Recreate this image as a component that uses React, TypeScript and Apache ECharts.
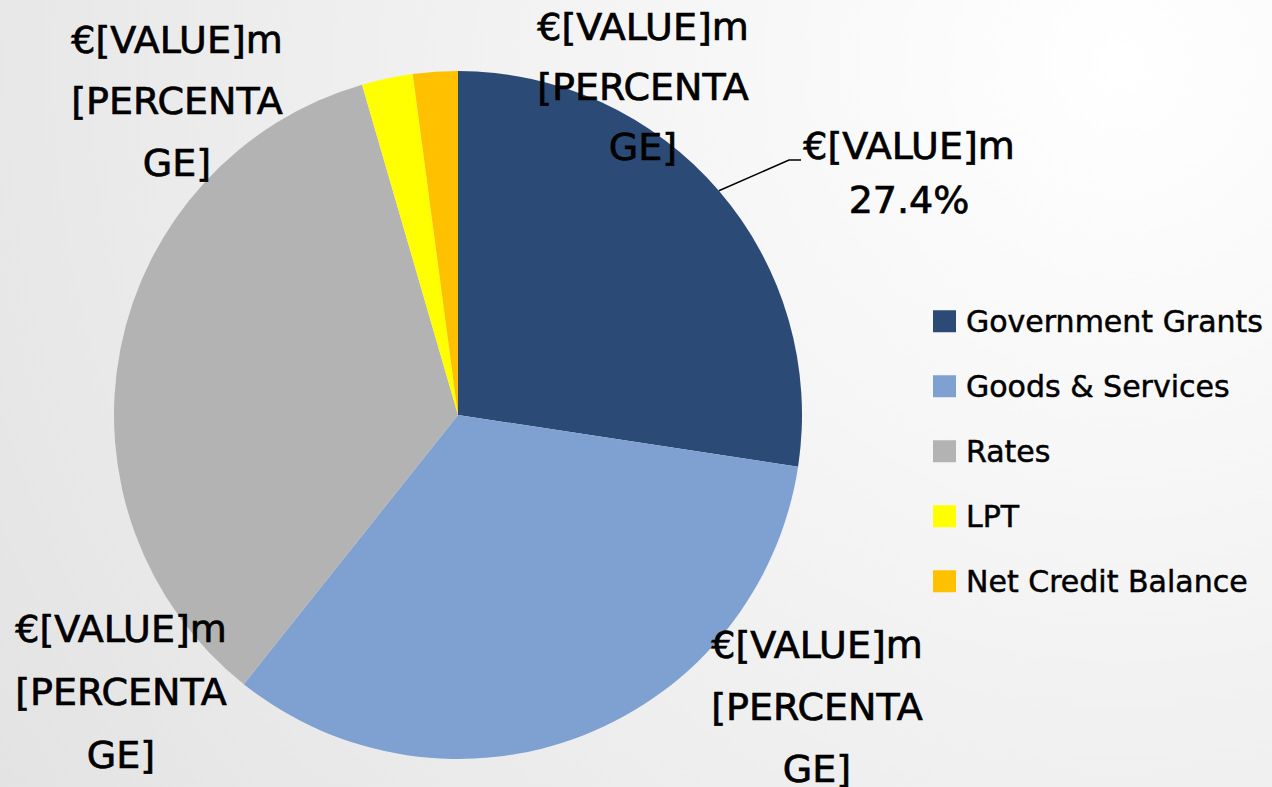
import React, { useEffect, useRef } from "react";
import * as echarts from "echarts";

const categories = ["Government Grants", "Goods & Services", "Rates", "LPT", "Net Credit Balance"];
const shares = [27.4, 33.3, 34.8, 2.4, 2.1];
const sliceColors = ["#2C4A76", "#7FA1D2", "#B3B3B3", "#FFFF00", "#FFC000"];
const valuePlaceholder = "€[VALUE]m";
const percentPlaceholder = "[PERCENTA\nGE]";

// label anchor (centre x, centre y) and line height per slice
const labelPlacement: [number, number, number][] = [
  [909, 173, 54],
  [817, 707, 62],
  [121, 692, 63],
  [177, 101, 61.5],
  [643, 87, 60],
];

export default function App() {
  const ref = useRef<HTMLDivElement>(null);
  useEffect(() => {
    if (!ref.current) return;
    const chart = echarts.init(ref.current, undefined, { renderer: "svg" });
    const font = "'DejaVu Sans', sans-serif";
    chart.setOption({
      animation: false,
      backgroundColor: "transparent",
      legend: {
        orient: "vertical",
        left: 933,
        top: 306,
        padding: 0,
        icon: "rect",
        itemWidth: 23,
        itemHeight: 22,
        itemGap: 34.5,
        data: categories,
        textStyle: {
          fontFamily: font,
          fontSize: 30,
          lineHeight: 30,
          color: "#000",
          textBorderColor: "#000",
          textBorderWidth: 0.5,
          padding: [0, 0, 0, 5],
        },
      },
      series: [
        {
          type: "pie",
          center: [458, 415],
          radius: 344,
          startAngle: 90,
          clockwise: true,
          avoidLabelOverlap: false,
          data: categories.map((name, i) => ({
            name,
            value: shares[i],
            itemStyle: { color: sliceColors[i] },
            label: { lineHeight: labelPlacement[i][2] },
            labelLine: { show: i === 0 },
          })),
          label: {
            show: true,
            position: "outside",
            fontFamily: font,
            fontSize: 38,
            color: "#000",
            textBorderColor: "#000",
            textBorderWidth: 0.7,
            width: 260,
            overflow: "none",
            align: "center",
            formatter: (p: any) =>
              p.dataIndex === 0
                ? `${valuePlaceholder}\n${p.percent.toFixed(1)}%`
                : `${valuePlaceholder}\n${percentPlaceholder}`,
          },
          labelLine: {
            show: true,
            lineStyle: { color: "#000", width: 1.5 },
          },
          labelLayout: (params: any) => {
            const pl = labelPlacement[params.dataIndex];
            const out: any = { x: pl[0], y: pl[1], align: "center", verticalAlign: "middle" };
            if (params.dataIndex === 0 && params.labelLinePoints) {
              const start = params.labelLinePoints[0];
              const textLeft = pl[0] - 108;
              const lineY = pl[1] - 13;
              out.labelLinePoints = [start, [textLeft - 12, lineY], [textLeft, lineY]];
            }
            return out;
          },
        },
      ],
    });
    return () => chart.dispose();
  }, []);
  return (
    <div
      style={{
        position: "absolute",
        left: 0,
        top: 0,
        width: 1272,
        height: 787,
        background: "radial-gradient(circle at 88% 8%, #ffffff 0%, #e3e3e3 100%)",
      }}
    >
      <div ref={ref} style={{ width: 1272, height: 787 }} />
    </div>
  );
}
